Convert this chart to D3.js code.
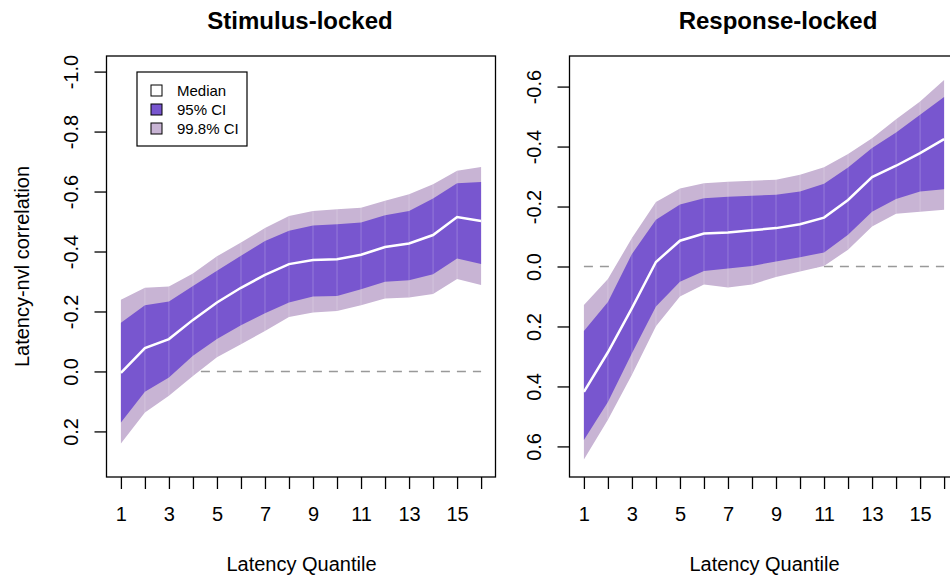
<!DOCTYPE html>
<html>
<head>
<meta charset="utf-8">
<script src="https://cdn.jsdelivr.net/npm/d3@7"></script>
<style>
  body { margin: 0; background: #fff; }
  svg { font-family: "Liberation Sans", Arial, sans-serif; }
</style>
</head>
<body>
<svg id="chart"></svg>
<script>
// latency quantiles
const quantiles = [1, 2, 3, 4, 5, 6, 7, 8, 9, 10, 11, 12, 13, 14, 15, 16];

// stimulus-locked
const stimMedian = [0.005, -0.078, -0.108, -0.172, -0.230, -0.279, -0.322, -0.358, -0.372, -0.374, -0.389, -0.415, -0.427, -0.455, -0.515, -0.502];
const stimCi95Top = [-0.162, -0.221, -0.233, -0.285, -0.336, -0.386, -0.435, -0.469, -0.487, -0.491, -0.497, -0.521, -0.535, -0.577, -0.628, -0.632];
const stimCi95Bot = [0.170, 0.068, 0.020, -0.052, -0.108, -0.154, -0.194, -0.230, -0.250, -0.252, -0.274, -0.299, -0.304, -0.324, -0.377, -0.358];
const stimCi998Top = [-0.239, -0.279, -0.283, -0.327, -0.384, -0.430, -0.478, -0.518, -0.535, -0.541, -0.546, -0.569, -0.591, -0.624, -0.669, -0.682];
const stimCi998Bot = [0.240, 0.137, 0.081, 0.015, -0.047, -0.091, -0.135, -0.182, -0.197, -0.202, -0.221, -0.243, -0.247, -0.258, -0.308, -0.288];

// response-locked
const respMedian = [0.418, 0.286, 0.139, -0.015, -0.086, -0.110, -0.113, -0.121, -0.128, -0.141, -0.163, -0.222, -0.298, -0.336, -0.378, -0.425];
const respCi95Top = [0.215, 0.118, -0.042, -0.156, -0.207, -0.228, -0.233, -0.236, -0.239, -0.250, -0.276, -0.330, -0.395, -0.447, -0.506, -0.565];
const respCi95Bot = [0.579, 0.452, 0.289, 0.133, 0.051, 0.015, 0.007, -0.002, -0.017, -0.031, -0.047, -0.106, -0.183, -0.225, -0.250, -0.258];
const respCi998Top = [0.128, 0.042, -0.095, -0.215, -0.260, -0.278, -0.283, -0.286, -0.289, -0.306, -0.331, -0.375, -0.428, -0.491, -0.550, -0.622];
const respCi998Bot = [0.644, 0.511, 0.361, 0.199, 0.100, 0.060, 0.070, 0.060, 0.035, 0.017, -0.002, -0.056, -0.133, -0.176, -0.183, -0.189];

// tick labels
const stimYTicks = [-1.0, -0.8, -0.6, -0.4, -0.2, 0.0, 0.2];
const respYTicks = [-0.6, -0.4, -0.2, 0.0, 0.2, 0.4, 0.6];
const legendLabels = ["Median", "95% CI", "99.8% CI"];

const width = 950, height = 576;
const plotTop = 56, plotBottom = 477;
const col95 = "#7856cf";
const col998 = "#c8b4d4";

const svg = d3.select("#chart").attr("width", width).attr("height", height);

function fmt(d) {
    return Math.abs(d) < 1e-9 ? "0.0" : d.toFixed(1);
}

function drawPanel(p) {
    let x = d3.scaleLinear().domain([0.4, 16.6]).range([p.left, p.right]);
    let y = d3.scaleLinear().domain(p.ylim).range([plotTop, plotBottom]);
    let g = svg.append("g");

    // zero reference line, under the bands
    g.append("line")
        .attr("x1", x(1)).attr("x2", x(16))
        .attr("y1", y(0)).attr("y2", y(0))
        .attr("stroke", "#999")
        .attr("stroke-width", 1.5)
        .attr("stroke-dasharray", "9,7");

    let rows = quantiles.map((q, i) => ({
        q: q, med: p.med[i], t95: p.t95[i], b95: p.b95[i], t998: p.t998[i], b998: p.b998[i]
    }));

    g.append("path")
        .datum(rows)
        .attr("fill", col998)
        .attr("d", d3.area().x(d => x(d.q)).y0(d => y(d.b998)).y1(d => y(d.t998)));

    g.append("path")
        .datum(rows)
        .attr("fill", col95)
        .attr("d", d3.area().x(d => x(d.q)).y0(d => y(d.b95)).y1(d => y(d.t95)));

    // faint seams between segments
    g.selectAll(".seam")
        .data(rows.slice(1, -1))
        .enter()
        .append("line")
        .attr("x1", d => x(d.q)).attr("x2", d => x(d.q))
        .attr("y1", d => y(d.t998)).attr("y2", d => y(d.b998))
        .attr("stroke", "#fff")
        .attr("stroke-opacity", 0.22)
        .attr("stroke-width", 1);

    g.append("path")
        .datum(rows)
        .attr("fill", "none")
        .attr("stroke", "#fff")
        .attr("stroke-width", 2.5)
        .attr("d", d3.line().x(d => x(d.q)).y(d => y(d.med)));

    // box
    g.append("rect")
        .attr("x", p.left).attr("y", plotTop)
        .attr("width", p.right - p.left).attr("height", plotBottom - plotTop)
        .attr("fill", "none")
        .attr("stroke", "#000")
        .attr("stroke-width", 1.3);

    // x axis
    let xa = g.append("g")
        .attr("transform", "translate(0," + plotBottom + ")")
        .call(d3.axisBottom(x).tickValues(quantiles).tickSize(12)
            .tickFormat(d => d % 2 ? d : ""));
    xa.select(".domain").remove();
    xa.selectAll("line").attr("stroke", "#000").attr("stroke-width", 1.3);
    xa.selectAll("text").attr("y", 44).attr("dy", 0)
        .attr("font-size", 20).attr("fill", "#000")
        .attr("font-family", "Liberation Sans, Arial, sans-serif");

    // y axis
    let ya = g.append("g")
        .attr("transform", "translate(" + p.left + ",0)")
        .call(d3.axisLeft(y).tickValues(p.yticks).tickSize(12).tickFormat(fmt));
    ya.select(".domain").remove();
    ya.selectAll("line").attr("stroke", "#000").attr("stroke-width", 1.3);
    ya.selectAll("text")
        .attr("x", 0).attr("y", 0).attr("dy", 0)
        .attr("text-anchor", "middle")
        .attr("transform", "translate(-29,0) rotate(-90)")
        .attr("font-size", 20).attr("fill", "#000")
        .attr("font-family", "Liberation Sans, Arial, sans-serif");

    // titles
    g.append("text")
        .attr("x", p.titleX).attr("y", 29)
        .attr("text-anchor", "middle")
        .attr("font-size", 24)
        .attr("font-weight", "bold")
        .text(p.title);

    g.append("text")
        .attr("x", (x(1) + x(16)) / 2 + 0.5).attr("y", 571)
        .attr("text-anchor", "middle")
        .attr("font-size", 20)
        .text("Latency Quantile");
}

drawPanel({
    left: 106.5, right: 495.5, ylim: [-1.052, 0.352], yticks: stimYTicks,
    med: stimMedian, t95: stimCi95Top, b95: stimCi95Bot, t998: stimCi998Top, b998: stimCi998Bot,
    title: "Stimulus-locked", titleX: 300
});

drawPanel({
    left: 569.5, right: 958.5, ylim: [-0.702, 0.702], yticks: respYTicks,
    med: respMedian, t95: respCi95Top, b95: respCi95Bot, t998: respCi998Top, b998: respCi998Bot,
    title: "Response-locked", titleX: 778
});

// y axis title (left panel only)
svg.append("text")
    .attr("transform", "translate(29," + (plotTop + plotBottom) / 2 + ") rotate(-90)")
    .attr("text-anchor", "middle")
    .attr("font-size", 20)
    .text("Latency-nvl correlation");

// legend
let legend = svg.append("g").attr("transform", "translate(137,72)");
legend.append("rect")
    .attr("width", 110).attr("height", 74)
    .attr("fill", "#fff").attr("stroke", "#000").attr("stroke-width", 1.2);
let legendFills = ["#fff", col95, col998];
legend.selectAll(".item")
    .data(legendLabels)
    .enter()
    .each(function (d, i) {
        let item = d3.select(this);
        item.append("rect")
            .attr("x", 14).attr("y", 13 + i * 19)
            .attr("width", 11).attr("height", 11)
            .attr("fill", legendFills[i])
            .attr("stroke", "#000").attr("stroke-width", 1);
        item.append("text")
            .attr("x", 40).attr("y", 24 + i * 19)
            .attr("font-size", 15)
            .text(d);
    });
</script>
</body>
</html>
